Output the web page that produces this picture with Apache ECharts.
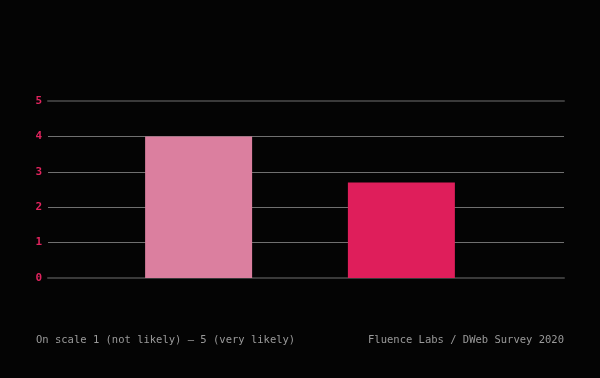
<!DOCTYPE html>
<html><head><meta charset="utf-8">
<script src="https://cdn.jsdelivr.net/npm/echarts@6/dist/echarts.min.js"></script>
<style>html,body{margin:0;padding:0;background:#040404;}#c{width:600px;height:378px;}</style>
</head><body><div id="c"></div>
<script>
const categories = ['A'];
const seriesNames = ['Series 1', 'Series 2'];
const seriesValues = [[4.0], [2.7]];
const seriesColors = ['#DB7F9F', '#DF1E5B'];
const yTicks = [0, 1, 2, 3, 4, 5];
const footLeft = 'On scale 1 (not likely) \u2014 5 (very likely)';
const footRight = 'Fluence Labs / DWeb Survey 2020';

const mono = '"DejaVu Sans Mono", "Liberation Mono", monospace';
const chart = echarts.init(document.getElementById('c'));
chart.setOption({
  backgroundColor: '#040404',
  animation: false,
  grid: [
    {left: 48, right: 36, top: 101, bottom: 100, containLabel: false},
    {left: 42, right: 42, top: 101, bottom: 100, containLabel: false}
  ],
  graphic: [
    {type: 'text', left: 36, top: 335, style: {text: footLeft, fill: '#9a9a9a', font: '10.5px ' + mono}},
    {type: 'text', right: 36, top: 335, style: {text: footRight, fill: '#9a9a9a', font: '10.5px ' + mono}}
  ],
  xAxis: [
    {type: 'category', gridIndex: 0, data: categories, axisLabel: {show: false}, axisTick: {show: false},
     axisLine: {show: true, lineStyle: {color: '#3a3a3a', width: 2}}},
    {type: 'category', gridIndex: 0, position: 'top', data: categories, axisLabel: {show: false}, axisTick: {show: false},
     axisLine: {show: true, lineStyle: {color: '#3a3a3a', width: 2}}},
    {type: 'category', gridIndex: 1, data: categories, show: false}
  ],
  yAxis: [
    {type: 'value', gridIndex: 0, min: yTicks[0], max: yTicks[yTicks.length - 1], interval: 1,
     axisLine: {show: false}, axisTick: {show: false},
     axisLabel: {color: '#E0245E', fontFamily: mono, fontWeight: 'bold', fontSize: 11, margin: 6},
     splitLine: {lineStyle: {color: '#707070', width: 1}}},
    {type: 'value', gridIndex: 1, min: yTicks[0], max: yTicks[yTicks.length - 1], show: false}
  ],
  series: seriesNames.map((n, i) => ({
    name: n, type: 'bar', xAxisIndex: 2, yAxisIndex: 1,
    data: seriesValues[i], barWidth: 107, barGap: '89.5%',
    itemStyle: {color: seriesColors[i]}
  }))
});
</script></body></html>
